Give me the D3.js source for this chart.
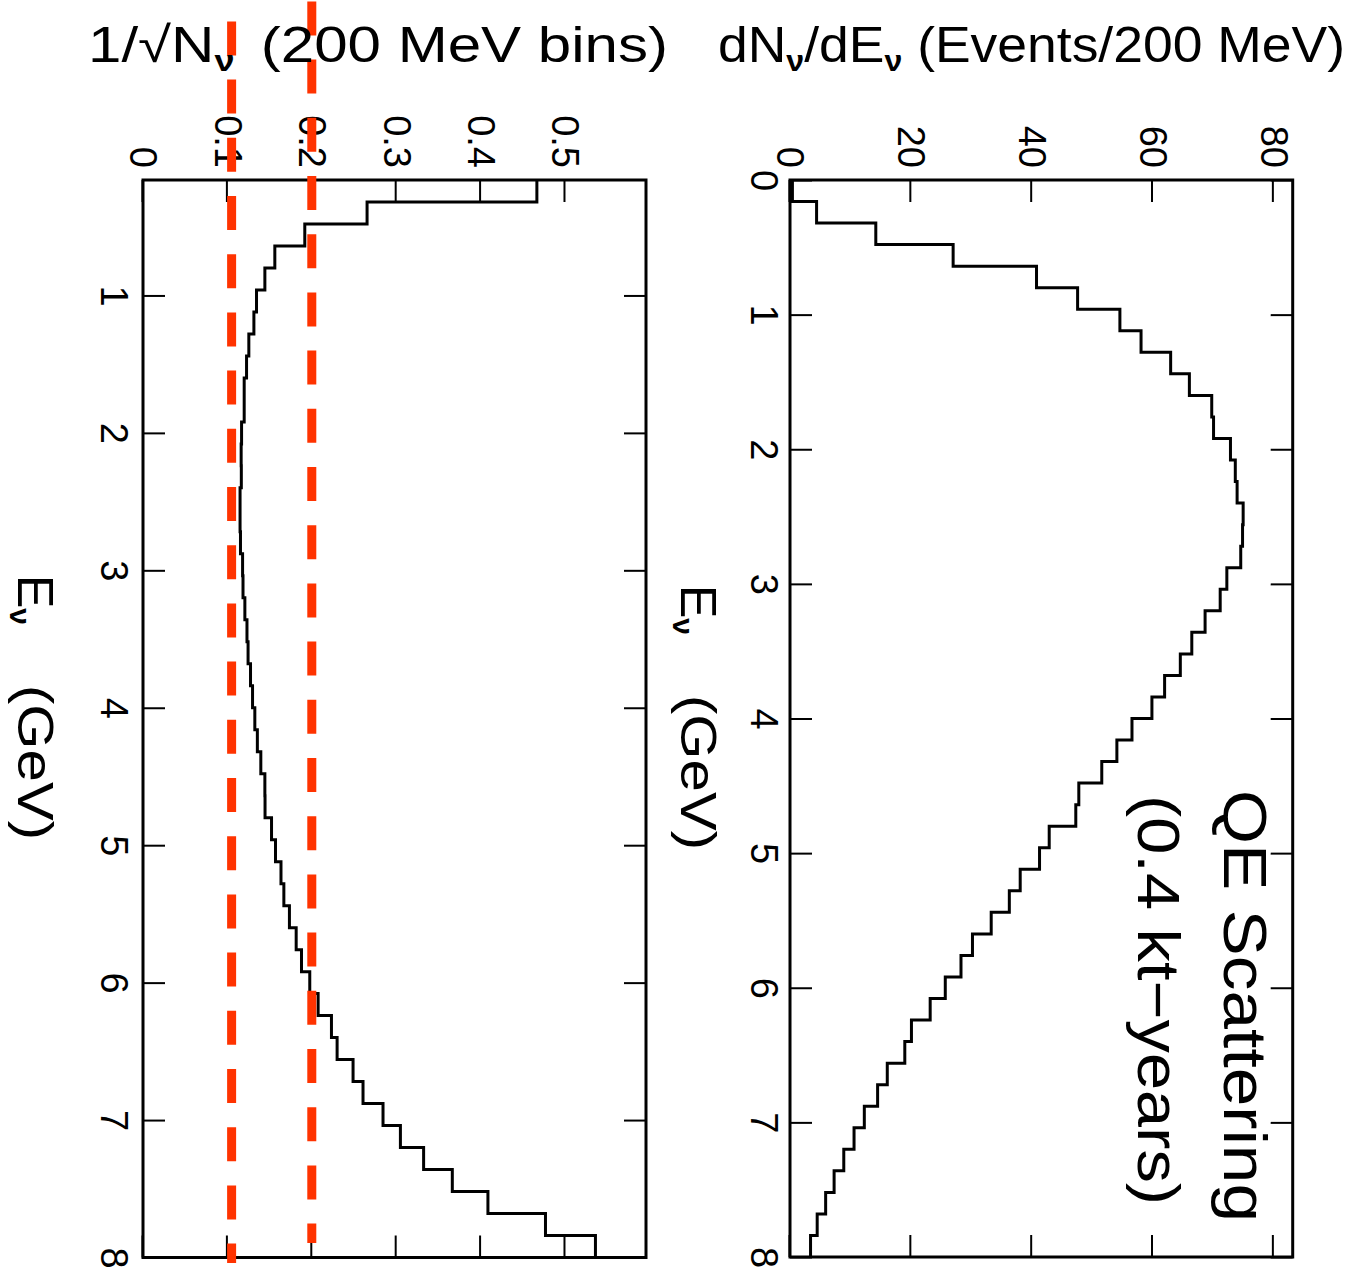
<!DOCTYPE html>
<html>
<head>
<meta charset="utf-8">
<script src="https://cdn.jsdelivr.net/npm/d3@7"></script>
<style>
body { margin: 0; background: #fff; }
svg text { font-family: "Liberation Sans", Arial, sans-serif; fill: #000; }
.tick line { stroke: #000; stroke-width: 2; }
</style>
</head>
<body>
<svg id="chart" width="1354" height="1283"></svg>
<script>
// lower edge of every 160 MeV bin (GeV), the last bin ends at 8
const binStarts = [0, 0.16, 0.32, 0.48, 0.64, 0.8, 0.96, 1.12, 1.28, 1.44,
  1.6, 1.76, 1.92, 2.08, 2.24, 2.4, 2.56, 2.72, 2.88, 3.04,
  3.2, 3.36, 3.52, 3.68, 3.84, 4.0, 4.16, 4.32, 4.48, 4.64,
  4.8, 4.96, 5.12, 5.28, 5.44, 5.6, 5.76, 5.92, 6.08, 6.24,
  6.4, 6.56, 6.72, 6.88, 7.04, 7.2, 7.36, 7.52, 7.68, 7.84]
const binEnd = 8

// QE events per bin (right panel)
const qeEvents = [0.4, 4.4, 14.2, 27.0, 40.8, 47.6, 54.6, 58.1, 63.0, 66.1,
  69.8, 70.1, 72.9, 73.7, 74.0, 75.0, 74.9, 74.6, 72.3, 71.2,
  68.7, 66.5, 64.6, 62.0, 59.9, 56.6, 54.1, 51.6, 47.8, 47.3,
  42.9, 41.3, 38.1, 36.3, 33.3, 30.2, 28.3, 25.7, 23.2, 20.1,
  19.0, 16.1, 14.5, 12.3, 10.6, 8.9, 7.3, 5.9, 4.5, 3.4]

// 1/sqrt(N) per bin (left panel), starts at the second bin
const invSqrtN = [0.4667, 0.2655, 0.1917, 0.1562, 0.1444, 0.1345, 0.1314, 0.1254, 0.1227,
  0.1199, 0.1199, 0.1168, 0.1163, 0.1165, 0.1150, 0.1150, 0.1155, 0.1180, 0.1185,
  0.1207, 0.1232, 0.1245, 0.1274, 0.1298, 0.1325, 0.1355, 0.1396, 0.1444, 0.1446,
  0.1523, 0.1570, 0.1635, 0.1669, 0.1735, 0.1815, 0.1878, 0.1976, 0.2075, 0.2233,
  0.2300, 0.2489, 0.2607, 0.2844, 0.3050, 0.3325, 0.3665, 0.4087, 0.4769, 0.5361]

const energyTicks = [0, 1, 2, 3, 4, 5, 6, 7, 8]
const energyTicksLeft = [1, 2, 3, 4, 5, 6, 7, 8]
const eventTicks = [0, 20, 40, 60, 80]
const errTicks = [0, 0.1, 0.2, 0.3, 0.4, 0.5]
const refLines = [0.105, 0.2]

const W = 1354
const svg = d3.select('#chart')

// the plot is drawn "upright" and turned 90 degrees clockwise:
// native x = screen y, native y = W - screen x
const g = svg.append('g').attr('transform', `translate(${W},0) rotate(90)`)

//right panel scales (events)
const xE = d3.scaleLinear().domain([0, 8]).range([180, 1257])
const yEv = d3.scaleLinear().domain([0, 83.2]).range([W - 790, W - 1292.7])

//left panel scales (1/sqrt N)
const xE2 = d3.scaleLinear().domain([0.16, 8]).range([180, 1257.5])
const yErr = d3.scaleLinear().domain([0, 0.596]).range([W - 143, W - 646])

function panel(x, y, xTicks, yTicks, yFmt, xPad) {
	const p = g.append('g')
	p.append('g').attr('transform', `translate(0,${y.range()[0]})`)
		.call(d3.axisBottom(x).tickValues(xTicks).tickSize(-22).tickPadding(xPad).tickFormat(d3.format('d')))
	p.append('g').attr('transform', `translate(0,${y.range()[1]})`)
		.call(d3.axisTop(x).tickValues(xTicks).tickSize(-22).tickFormat(''))
	p.append('g').attr('transform', `translate(${x.range()[0]},0)`)
		.call(d3.axisLeft(y).tickValues(yTicks).tickSize(-22).tickPadding(12).tickFormat(yFmt))
	p.append('g').attr('transform', `translate(${x.range()[1]},0)`)
		.call(d3.axisRight(y).tickValues(yTicks).tickSize(-22).tickFormat(''))
	p.selectAll('.domain').remove()
	p.selectAll('.tick text').attr('font-size', 38).attr('font-family', '"Liberation Sans", Arial, sans-serif')

	p.append('rect')
		.attr('x', x.range()[0]).attr('y', y.range()[1])
		.attr('width', x.range()[1] - x.range()[0])
		.attr('height', y.range()[0] - y.range()[1])
		.attr('fill', 'none').attr('stroke', '#000').attr('stroke-width', 3)
	return p
}

const pR = panel(xE, yEv, energyTicks, eventTicks, d3.format('d'), 12)
const pL = panel(xE2, yErr, energyTicksLeft, errTicks, d => d === 0 ? '0' : d3.format('.1f')(d), 15)

function histPath(starts, vals, x, y) {
	const pts = starts.map((e, i) => [e, vals[i]])
	pts.push([binEnd, vals[vals.length - 1]])
	return d3.line().curve(d3.curveStepAfter).x(d => x(d[0])).y(d => y(d[1]))(pts)
}

pR.append('path')
	.attr('d', histPath(binStarts, qeEvents, xE, yEv))
	.attr('fill', 'none').attr('stroke', '#000').attr('stroke-width', 3)

pL.append('path')
	.attr('d', histPath(binStarts.slice(1), invSqrtN, xE2, yErr))
	.attr('fill', 'none').attr('stroke', '#000').attr('stroke-width', 3)

// axis labels along the energy axis
function eLabel(x0, parenX, base) {
	const t = g.append('text').attr('x', x0).attr('y', base).attr('font-size', 50)
	t.append('tspan').text('E')
	t.append('tspan').attr('font-size', 30).attr('font-weight', 'bold').attr('dy', 8).text('ν')
	g.append('text').attr('x', parenX).attr('y', base).attr('font-size', 50)
		.attr('textLength', 155).attr('lengthAdjust', 'spacingAndGlyphs').text('(GeV)')
}
eLabel(585, 695, W - 681)
eLabel(575, 685, W - 18)

// annotation
g.append('text').attr('x', 790).attr('y', W - 1224).attr('font-size', 62)
	.attr('textLength', 432).attr('lengthAdjust', 'spacingAndGlyphs').text('QE Scattering')
g.append('text').attr('x', 795).attr('y', W - 1138).attr('font-size', 60)
	.attr('textLength', 410).attr('lengthAdjust', 'spacingAndGlyphs').text('(0.4 kt\u2212years)')

// titles (horizontal on screen)
const tR = svg.append('text').attr('x', 718).attr('y', 62).attr('font-size', 50)
	.attr('textLength', 627).attr('lengthAdjust', 'spacingAndGlyphs')
tR.append('tspan').text('dN')
tR.append('tspan').attr('font-size', 30).attr('font-weight', 'bold').attr('dy', 9).text('ν')
tR.append('tspan').attr('dy', -9).text('/dE')
tR.append('tspan').attr('font-size', 30).attr('font-weight', 'bold').attr('dy', 9).text('ν')
tR.append('tspan').attr('dy', -9).text(' (Events/200 MeV)')

const tL = svg.append('text').attr('x', 88).attr('y', 62).attr('font-size', 50)
	.attr('textLength', 580).attr('lengthAdjust', 'spacingAndGlyphs')
tL.append('tspan').text('1/\u221AN')
tL.append('tspan').attr('font-size', 30).attr('font-weight', 'bold').attr('dy', 9).text('ν')
tL.append('tspan').attr('dy', -9).attr('dx', 22).text('(200 MeV bins)')

// red dashed reference lines on the left panel
const lineStart = [21.4, 1.4]
refLines.forEach((v, i) => {
	g.append('line')
		.attr('x1', lineStart[i]).attr('x2', lineStart[i] + 1241.6)
		.attr('y1', yErr(v)).attr('y2', yErr(v))
		.attr('stroke', '#ff3300').attr('stroke-width', 9)
		.attr('stroke-dasharray', '34,24.2')
})
</script>
</body>
</html>
